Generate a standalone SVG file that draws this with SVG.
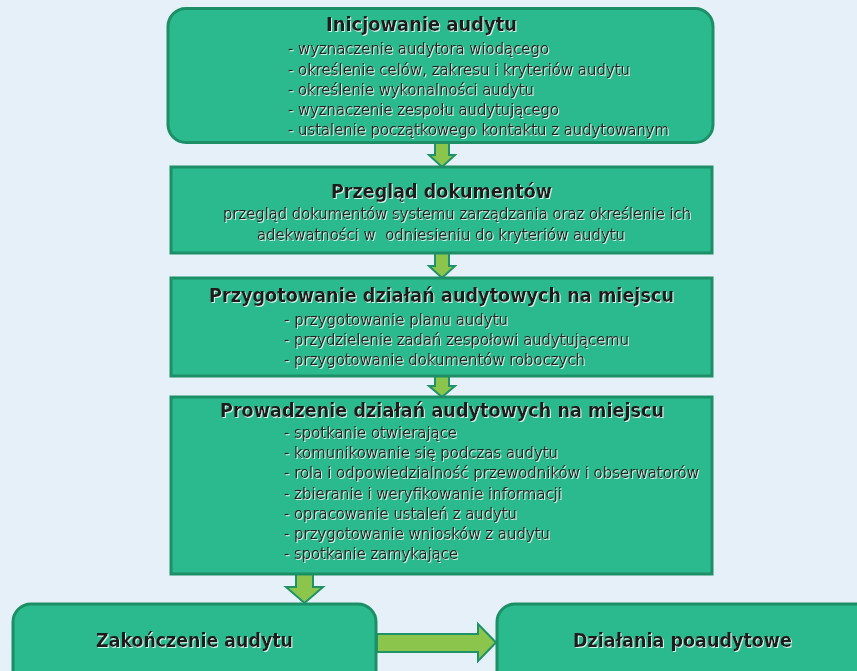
<svg xmlns="http://www.w3.org/2000/svg" width="857" height="671" viewBox="0 0 857 671">
  <style>
    .box { fill: #2BBA8E; stroke: #1C8F66; stroke-width: 3; }
    .arrow { fill: #8BC54B; stroke: #1E9268; stroke-width: 2; stroke-linejoin: miter; }
    .title { font-family: "DejaVu Sans Condensed", "DejaVu Sans", Tahoma, sans-serif; font-weight: bold; font-size: 20px; fill: #1F1B1C; filter: url(#glow); }
    .item { font-family: "DejaVu Sans Condensed", "DejaVu Sans", Tahoma, sans-serif; font-size: 16px; fill: #262222; filter: url(#glow); }
  </style>
  <defs>
    <filter id="glow" x="-5%" y="-20%" width="110%" height="150%">
      <feDropShadow dx="1" dy="1" stdDeviation="0" flood-color="#FFFFFF" flood-opacity="0.8"/>
    </filter>
  </defs>

  <rect width="857" height="671" fill="#E6F0F9"/>

  <!-- connectors -->
  <g id="connectors">
    <polygon class="arrow" points="435,142 449,142 449,155 455,155 442,167 429,155 435,155"/>
    <polygon class="arrow" points="435,253 449,253 449,266 455,266 442,278 429,266 435,266"/>
    <polygon class="arrow" points="435,376 449,376 449,386 455,386 442,397 429,386 435,386"/>
    <polygon class="arrow" points="296,574 313,574 313,587 323,587 304.5,603 286,587 296,587"/>
    <polygon class="arrow" points="377,634 478,634 478,624 496,642.5 478,661 478,652 377,652"/>
  </g>

  <g id="inicjowanie">
    <rect class="box" x="168" y="8.5" width="545" height="134" rx="18"/>
    <text class="title" x="326" y="31" textLength="191" lengthAdjust="spacingAndGlyphs">Inicjowanie audytu</text>
    <text class="item" x="288" y="54" textLength="261" lengthAdjust="spacingAndGlyphs">- wyznaczenie audytora wiodącego</text>
    <text class="item" x="288" y="75" textLength="342" lengthAdjust="spacingAndGlyphs">- określenie celów, zakresu i kryteriów audytu</text>
    <text class="item" x="288" y="95" textLength="246" lengthAdjust="spacingAndGlyphs">- określenie wykonalności audytu</text>
    <text class="item" x="288" y="115" textLength="271" lengthAdjust="spacingAndGlyphs">- wyznaczenie zespołu audytującego</text>
    <text class="item" x="288" y="135" textLength="381" lengthAdjust="spacingAndGlyphs">- ustalenie początkowego kontaktu z audytowanym</text>
  </g>

  <g id="przeglad">
    <rect class="box" x="171" y="167" width="541" height="86"/>
    <text class="title" x="331" y="198" textLength="221" lengthAdjust="spacingAndGlyphs">Przegląd dokumentów</text>
    <text class="item" x="223" y="219" textLength="468" lengthAdjust="spacingAndGlyphs">przegląd dokumentów systemu zarządzania oraz określenie ich</text>
    <text class="item" x="257" y="240" textLength="368" lengthAdjust="spacingAndGlyphs" xml:space="preserve">adekwatności w  odniesieniu do kryteriów audytu</text>
  </g>

  <g id="przygotowanie">
    <rect class="box" x="171" y="278" width="541" height="98"/>
    <text class="title" x="209" y="302" textLength="465" lengthAdjust="spacingAndGlyphs">Przygotowanie działań audytowych na miejscu</text>
    <text class="item" x="284" y="325" textLength="224" lengthAdjust="spacingAndGlyphs">- przygotowanie planu audytu</text>
    <text class="item" x="284" y="345" textLength="345" lengthAdjust="spacingAndGlyphs">- przydzielenie zadań zespołowi audytującemu</text>
    <text class="item" x="284" y="365" textLength="301" lengthAdjust="spacingAndGlyphs">- przygotowanie dokumentów roboczych</text>
  </g>

  <g id="prowadzenie">
    <rect class="box" x="171" y="397" width="541" height="177"/>
    <text class="title" x="220" y="417" textLength="444" lengthAdjust="spacingAndGlyphs">Prowadzenie działań audytowych na miejscu</text>
    <text class="item" x="284" y="438" textLength="173" lengthAdjust="spacingAndGlyphs">- spotkanie otwierające</text>
    <text class="item" x="284" y="458" textLength="274" lengthAdjust="spacingAndGlyphs">- komunikowanie się podczas audytu</text>
    <text class="item" x="284" y="478" textLength="415" lengthAdjust="spacingAndGlyphs">- rola i odpowiedzialność przewodników i obserwatorów</text>
    <text class="item" x="284" y="499" textLength="278" lengthAdjust="spacingAndGlyphs">- zbieranie i weryfikowanie informacji</text>
    <text class="item" x="284" y="519" textLength="233" lengthAdjust="spacingAndGlyphs">- opracowanie ustaleń z audytu</text>
    <text class="item" x="284" y="539" textLength="266" lengthAdjust="spacingAndGlyphs">- przygotowanie wniosków z audytu</text>
    <text class="item" x="284" y="559" textLength="174" lengthAdjust="spacingAndGlyphs">- spotkanie zamykające</text>
  </g>

  <g id="zakonczenie">
    <rect class="box" x="13" y="604" width="363" height="90" rx="18"/>
    <text class="title" x="96" y="647" textLength="197" lengthAdjust="spacingAndGlyphs">Zakończenie audytu</text>
  </g>

  <g id="poaudytowe">
    <rect class="box" x="497" y="604" width="380" height="90" rx="18"/>
    <text class="title" x="573" y="647" textLength="219" lengthAdjust="spacingAndGlyphs">Działania poaudytowe</text>
  </g>
</svg>
